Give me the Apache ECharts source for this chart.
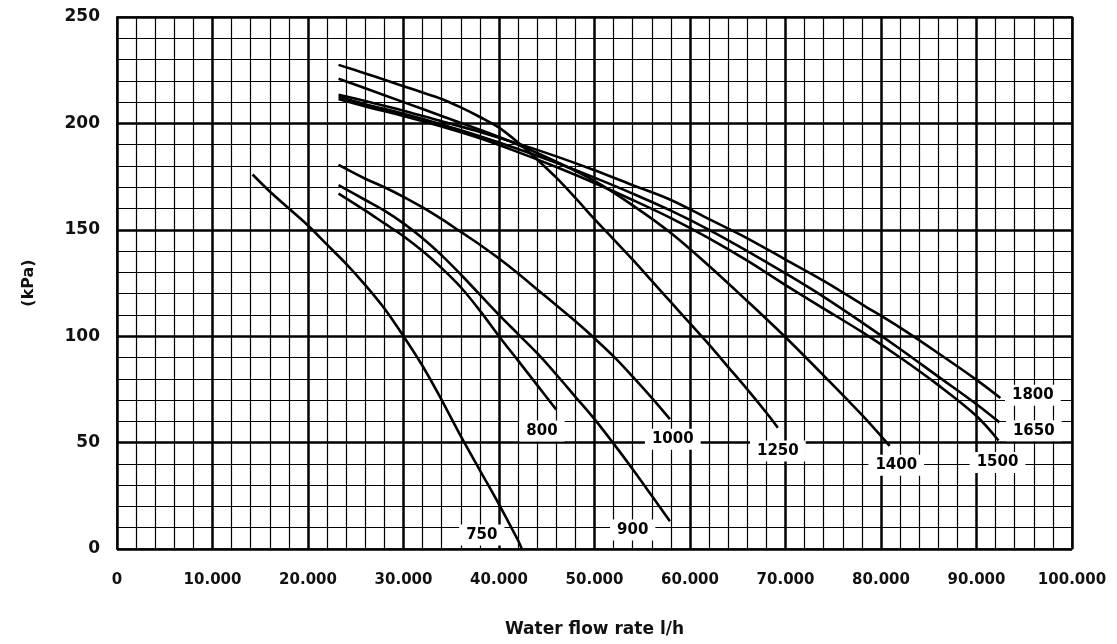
<!DOCTYPE html>
<html>
<head>
<meta charset="utf-8">
<script src="https://cdn.jsdelivr.net/npm/echarts@6/dist/echarts.min.js"></script>
<style>
html,body{margin:0;padding:0;background:#fff;}
#chart{width:1117px;height:644px;}
</style>
</head>
<body>
<div id="chart"></div>
<script>
// Curve data: [water flow l/h, kPa]
var c750 = [[14200,176],[16000,168],[18000,160],[20000,152],[22000,143],[24000,134],[26000,124],[28000,113],[30000,100],[32000,86],[34000,70],[36000,53],[38000,37],[40000,21],[42000,4],[42400,0]];
var c800 = [[23200,167],[26000,159],[28000,153],[30000,147],[32000,140],[34000,132],[36000,123],[38000,112],[40000,100],[42000,88.5],[44000,77],[46000,65.5]];
var c900 = [[23200,171],[26000,164],[28000,159],[30000,153],[32000,146],[34000,138],[36000,129],[38000,119.5],[40000,110],[42000,101],[44000,92],[46000,82],[48000,71.5],[50000,61],[52000,49.5],[54000,37.5],[56000,25],[57900,13]];
var c1000 = [[23200,180.5],[26000,174],[28000,170],[30000,165.5],[32000,160.5],[34000,155],[36000,149],[38000,143],[40000,136.5],[42000,129.5],[44000,122],[46000,114.5],[48000,107],[50000,99],[52000,90.5],[54000,81],[56000,71],[57900,61]];
var c1250 = [[23200,227.5],[26000,223.5],[28000,220.5],[30000,217.5],[32000,214.5],[34000,211.5],[36000,207.5],[38000,203],[40000,198],[42000,191],[44000,183],[46000,174.5],[48000,165],[50000,155],[52000,145.5],[54000,136],[56000,126],[58000,116],[60000,106],[62000,96],[64000,85.5],[66000,75],[68000,64],[69200,57]];
var c1400 = [[23200,221],[26000,216.5],[30000,210],[34000,203.5],[38000,197],[42000,190],[46000,182],[50000,173],[54000,161.5],[58000,148.5],[62000,133],[66000,116.5],[70000,99.5],[74000,81.5],[78000,63],[80900,48.5]];
var c1500 = [[23200,211.5],[26000,208],[30000,203.5],[34000,198.5],[38000,193],[42000,186.5],[46000,179.5],[50000,172],[54000,164],[58000,155.5],[62000,146],[66000,135.5],[70000,124],[74000,113],[78000,102],[82000,90],[86000,77],[90000,62.5],[92300,51]];
var c1650 = [[23200,212.5],[26000,209],[30000,204.5],[34000,199.5],[38000,194],[42000,188],[46000,181.5],[50000,174.5],[54000,167],[58000,159],[62000,150],[66000,140],[70000,129.5],[74000,118.5],[78000,106.5],[82000,94],[86000,81],[90000,68],[92400,59.5]];
var c1800 = [[23200,213.5],[26000,210.5],[30000,206],[34000,201],[38000,196],[42000,190.5],[46000,184.5],[50000,178],[54000,171],[58000,164],[62000,155],[66000,146],[70000,136],[74000,126],[78000,115],[82000,104],[86000,92],[90000,79.5],[92500,71]];

// Curve labels
var labelText = ['750','800','900','1000','1250','1400','1500','1650','1800'];
var labelFlow = [38200,44500,54000,58200,69200,81600,92200,96000,95900];
var labelKpa  = [6.6,55.5,8.9,51.6,46.1,39.3,40.7,55.6,72.2];

var xName = 'Water flow rate l/h';
var yName = '(kPa)';

var curves = [c750,c800,c900,c1000,c1250,c1400,c1500,c1650,c1800];

var FONT = 'DejaVu Sans';

function fmtX(v){
  if (v === 0) return '0';
  var k = Math.round(v/1000);
  return k + '.000';
}

var series = curves.map(function(d, i){
  return {
    name: labelText[i],
    type: 'line',
    data: d,
    smooth: 0.35,
    symbol: 'none',
    lineStyle: {color:'#000', width:2.6},
    z: 3,
    silent: true
  };
});

series.push({
  type: 'scatter',
  data: labelFlow.map(function(x,i){ return [x, labelKpa[i], labelText[i]]; }),
  symbol: 'rect',
  symbolSize: 1,
  itemStyle: {color: '#fff', opacity: 1},
  z: 5,
  silent: true,
  label: {
    show: true,
    position: 'inside',
    formatter: function(p){ return p.data[2]; },
    color: '#000',
    opacity: 1,
    fontFamily: FONT,
    fontWeight: 'bold',
    fontSize: 15,
    backgroundColor: '#fff',
    padding: [3, 7]
  }
});

var chart = echarts.init(document.getElementById('chart'), null, {renderer:'canvas'});
chart.setOption({
  animation: false,
  backgroundColor: '#fff',
  grid: {left:117, right:45, top:17, bottom:95, show:true, borderColor:'#444', borderWidth:2, backgroundColor:'transparent'},
  xAxis: {
    type: 'value', min: 0, max: 100000, interval: 10000,
    name: xName, nameLocation: 'middle', nameGap: 72,
    nameTextStyle: {fontFamily: FONT, fontWeight:'bold', fontSize:17, color:'#111'},
    axisLine: {show:false},
    axisTick: {show:false},
    axisLabel: {formatter: fmtX, fontFamily: FONT, fontWeight:'bold', fontSize:15, color:'#111', margin:24},
    splitLine: {show:true, lineStyle:{color:'#000', width:2.5}},
    minorTick: {show:false, splitNumber:5},
    minorSplitLine: {show:true, lineStyle:{color:'#000', width:1.2}}
  },
  yAxis: {
    type: 'value', min: 0, max: 250, interval: 50,
    name: yName, nameLocation: 'middle', nameGap: 80,
    nameTextStyle: {fontFamily: FONT, fontWeight:'bold', fontSize:16, color:'#111'},
    axisLine: {show:false},
    axisTick: {show:false},
    axisLabel: {fontFamily: FONT, fontWeight:'bold', fontSize:17, color:'#111', margin:17},
    splitLine: {show:true, lineStyle:{color:'#000', width:2.5}},
    minorTick: {show:false, splitNumber:5},
    minorSplitLine: {show:true, lineStyle:{color:'#000', width:1.2}}
  },
  series: series
});
</script>
</body>
</html>
